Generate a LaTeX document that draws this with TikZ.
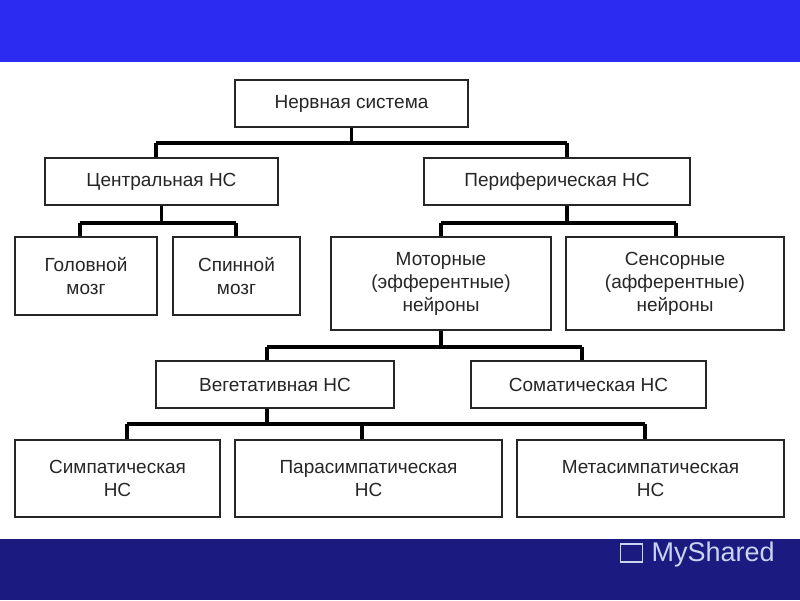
\documentclass[tikz,border=0pt]{standalone}
\usepackage{fontspec}
\setmainfont{Liberation Sans}
\definecolor{topblue}{HTML}{2B2BF2}
\definecolor{botblue}{HTML}{1A1A80}
\definecolor{logo}{HTML}{C8D4F0}
\begin{document}
\begin{tikzpicture}[x=1pt,y=-1pt,
  box/.style={draw=black!85,line width=1.3pt,fill=white,align=center,font=\fontsize{19}{23}\selectfont,text=black!85,inner sep=0pt},
  bus/.style={line width=3.5pt,black}]
\useasboundingbox (0,0) rectangle (800,600);
\fill[topblue] (0,0) rectangle (800,62);
\fill[botblue] (0,539) rectangle (800,600);
\node[font=\fontsize{27}{30}\selectfont,text=logo,anchor=west] (logo) at (648,555) {MyShared};
\node[draw=logo,line width=1.5pt,minimum width=22pt,minimum height=18pt,anchor=east] (icon) at (643,553) {};
% boxes (coords via rectangles)
\newcommand{\mybox}[6]{\node[box,minimum width=#4-#2,minimum height=#5-#3] (#1) at ({(#2+#4)/2},{(#3+#5)/2}) {#6};}
\mybox{ns}{235}{80}{468}{127}{Нервная система}
\mybox{cns}{45}{158}{278}{205}{Центральная НС}
\mybox{pns}{424}{158}{690}{205}{Периферическая НС}
\mybox{gm}{15}{237}{157}{315}{Головной\\мозг}
\mybox{sm}{173}{237}{300}{315}{Спинной\\мозг}
\mybox{mot}{331}{237}{551}{330}{Моторные\\(эфферентные)\\нейроны}
\mybox{sen}{566}{237}{784}{330}{Сенсорные\\(афферентные)\\нейроны}
\mybox{veg}{156}{361}{394}{408}{Вегетативная НС}
\mybox{som}{471}{361}{706}{408}{Соматическая НС}
\mybox{sym}{15}{440}{220}{517}{Симпатическая\\НС}
\mybox{par}{235}{440}{502}{517}{Парасимпатическая\\НС}
\mybox{met}{517}{440}{784}{517}{Метасимпатическая\\НС}
% connectors
\draw[bus] (ns.south) -- (ns.south |- 0,143);
\draw[bus] (156,143) -- (567,143);
\draw[bus] (156,143) -- (cns.north -| 156,0);
\draw[bus] (567,143) -- (pns.north -| 567,0);
\draw[bus] (cns.south) -- (cns.south |- 0,223);
\draw[bus] (80,223) -- (236,223);
\draw[bus] (80,223) -- (gm.north -| 80,0);
\draw[bus] (236,223) -- (sm.north -| 236,0);
\draw[bus] (pns.south -| 567,0) -- (567,223);
\draw[bus] (441,223) -- (676,223);
\draw[bus] (441,223) -- (mot.north -| 441,0);
\draw[bus] (676,223) -- (sen.north -| 676,0);
\draw[bus] (mot.south -| 441,0) -- (441,347);
\draw[bus] (267,347) -- (582,347);
\draw[bus] (267,347) -- (veg.north -| 267,0);
\draw[bus] (582,347) -- (som.north -| 582,0);
\draw[bus] (veg.south -| 267,0) -- (267,424);
\draw[bus] (127,424) -- (645,424);
\draw[bus] (127,424) -- (sym.north -| 127,0);
\draw[bus] (362,424) -- (par.north -| 362,0);
\draw[bus] (645,424) -- (met.north -| 645,0);
\end{tikzpicture}
\end{document}
